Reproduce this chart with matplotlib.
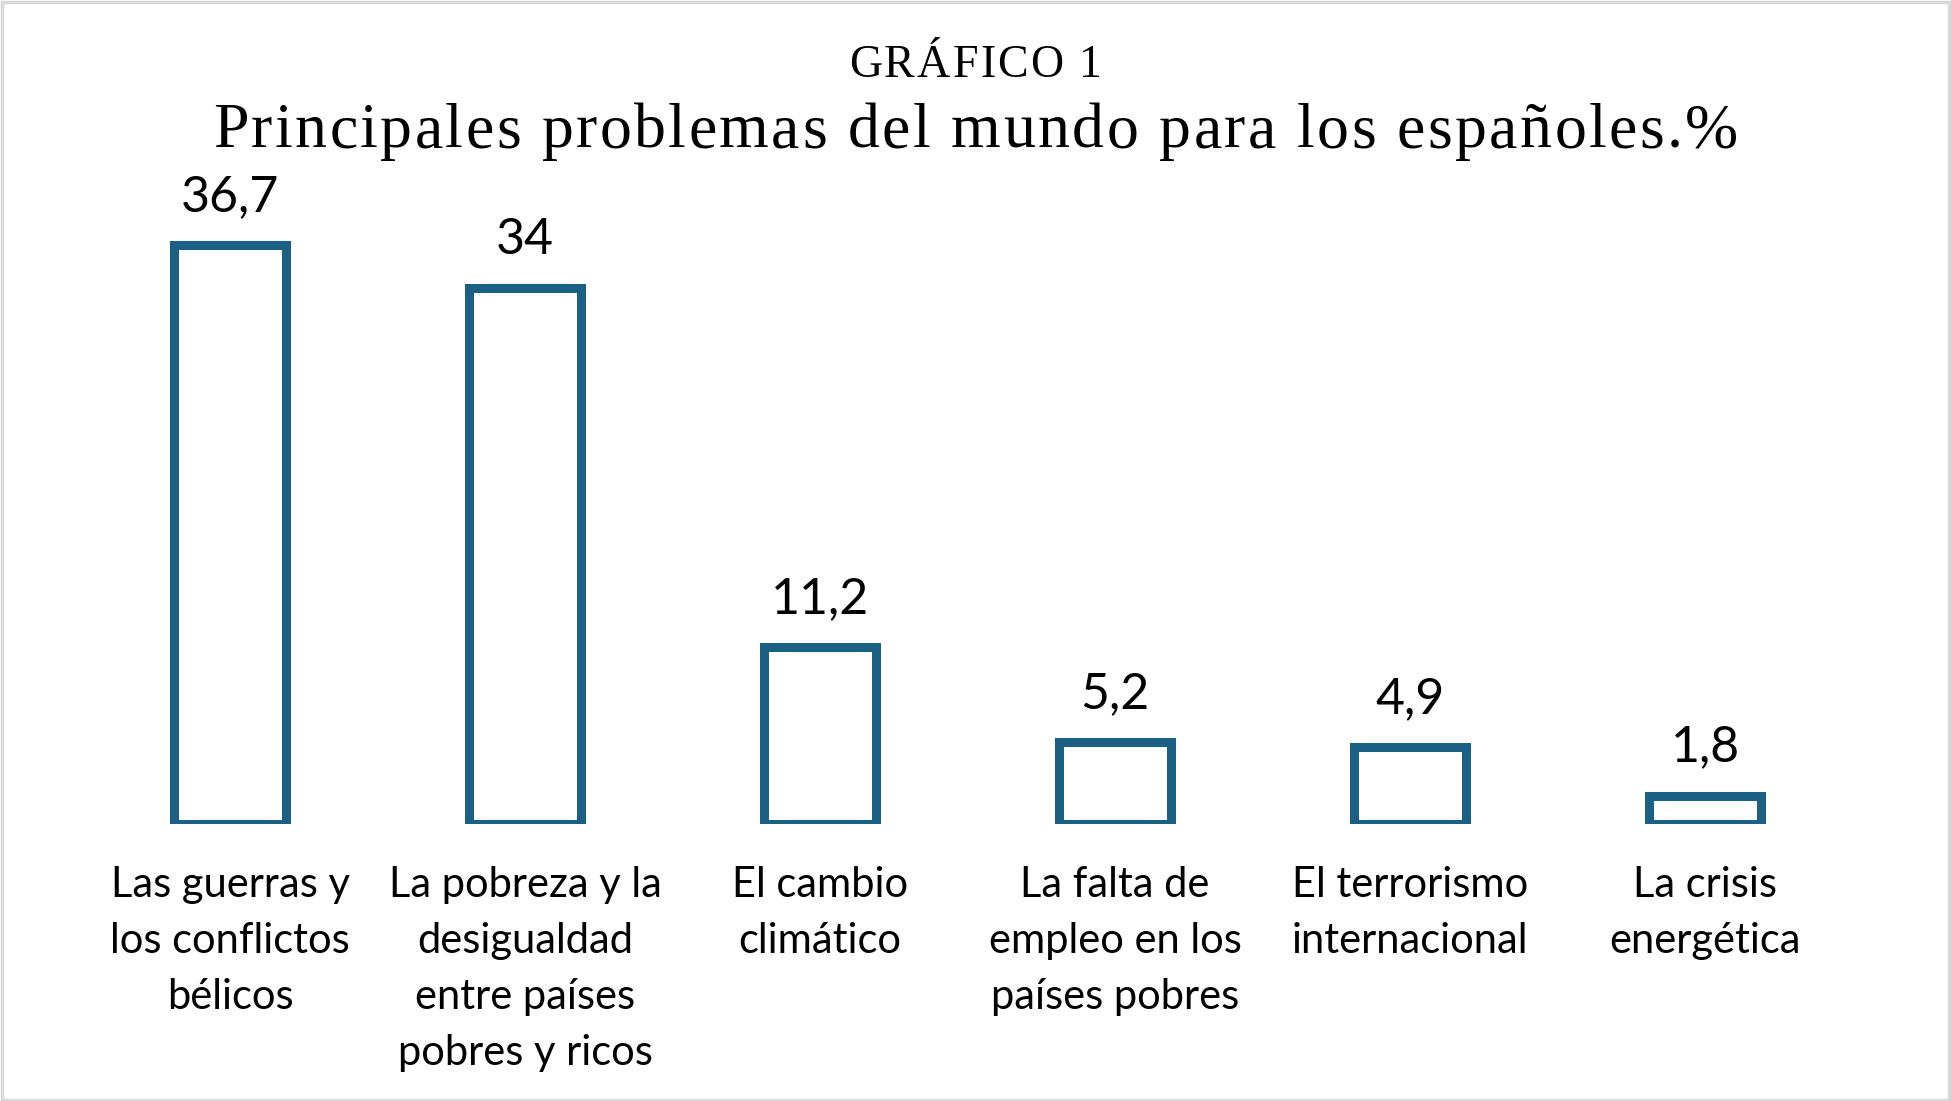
import matplotlib.pyplot as plt
from matplotlib.patches import Rectangle

# data
categorias = [
    'Las guerras y\nlos conflictos\nbélicos',
    'La pobreza y la\ndesigualdad\nentre países\npobres y ricos',
    'El cambio\nclimático',
    'La falta de\nempleo en los\npaíses pobres',
    'El terrorismo\ninternacional',
    'La crisis\nenergética',
]
valores = [36.7, 34, 11.2, 5.2, 4.9, 1.8]
etiquetas = ['36,7', '34', '11,2', '5,2', '4,9', '1,8']

W, H = 1951, 1101
fig = plt.figure(figsize=(W / 100, H / 100), dpi=100)
color = '#1b6084'
renderer = fig.canvas.get_renderer()


def text_width(s, **kw):
    t = fig.text(0, 0, s, **kw)
    w = t.get_window_extent(renderer).width
    t.remove()
    return w


def spaced_title(y, s, track, **kw):
    # the original title is drawn with a little letter spacing
    bar = text_width('|', **kw)
    total = text_width(s, **kw) + track * (len(s) - 1)
    x0 = W / 2 - total / 2
    for i, ch in enumerate(s):
        if ch == ' ':
            continue
        off = text_width(s[:i] + '|', **kw) - bar if i else 0
        fig.text((x0 + off + i * track) / W, y, ch, ha='left', va='center', **kw)


# axes placed so bars land where they are in the original
ax = fig.add_axes([82.5 / W, 277 / H, 1770 / W, 631 / H])
x = range(len(valores))
ax.bar(x, valores, width=0.38, facecolor='white', edgecolor=color, linewidth=6.5)
ax.set_xlim(-0.5, 5.5)
ax.set_ylim(0, 40)

for i, v in enumerate(valores):
    ax.annotate(etiquetas[i], (i, v), xytext=(0, 18), textcoords='offset points',
                ha='center', va='bottom', fontsize=36, family='Lato')

ax.set_xticks(list(x))
ax.set_xticklabels(categorias, fontsize=30, family='Lato', linespacing=1.58)
ax.tick_params(axis='x', length=0, pad=30)
ax.set_yticks([])
for s in ax.spines.values():
    s.set_visible(False)

spaced_title(1 - 66 / H, 'GRÁFICO 1', 2.2, fontsize=33, family='Liberation Serif')
spaced_title(1 - 132 / H, 'Principales problemas del mundo para los españoles.%', 2.4,
             fontsize=46, family='Liberation Serif')

# light frame around the chart
fig.patches.append(Rectangle((0.001, 0.001), 0.998, 0.997, transform=fig.transFigure,
                             fill=False, edgecolor='#d9d9d9', linewidth=2.5))

fig.savefig('out.png', dpi=100)
